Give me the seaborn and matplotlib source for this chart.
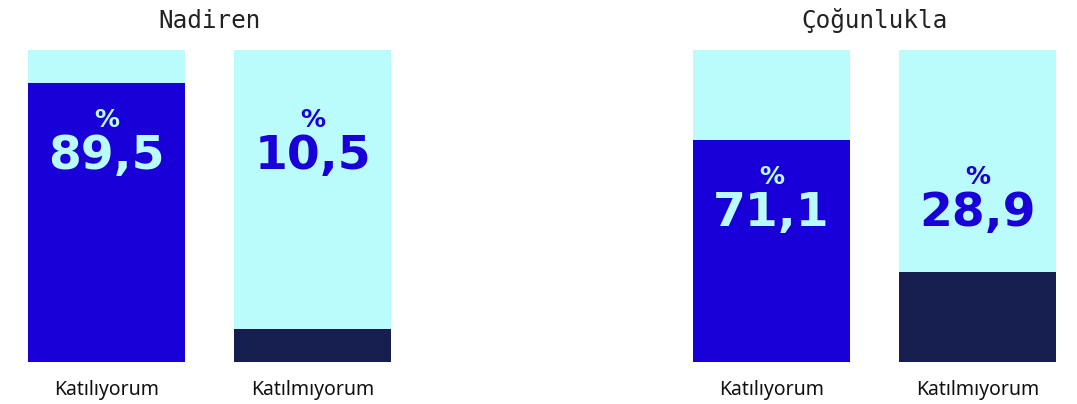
import matplotlib
matplotlib.use("Agg")
import matplotlib.pyplot as plt
import seaborn as sns

# data
groups = ["Nadiren", "Çoğunlukla"]
categories = ["Katılıyorum", "Katılmıyorum"]
nadiren_vals = [89.5, 10.5]
cogunlukla_vals = [71.1, 28.9]

BLUE = "#1a00d8"
CYAN = "#bafcfc"
NAVY = "#161d4f"

sns.set_style("white")
plt.rcParams["font.family"] = ["Noto Sans", "DejaVu Sans"]

fig = plt.figure(figsize=(10.77, 4.04), dpi=100)
ax_left = fig.add_axes([28 / 1077, 42 / 404, 363 / 1077, 312 / 404])
ax_right = fig.add_axes([693 / 1077, 42 / 404, 363 / 1077, 312 / 404])

bar_w = 157 / 206

for ax, title, vals in [(ax_left, groups[0], nadiren_vals), (ax_right, groups[1], cogunlukla_vals)]:
    # full-height background bars
    sns.barplot(x=categories, y=[100, 100], color=CYAN, width=bar_w, ax=ax,
                saturation=1, linewidth=0)
    # filled share
    sns.barplot(x=categories, y=vals, hue=categories, palette=[BLUE, NAVY],
                width=bar_w, ax=ax, legend=False, saturation=1, linewidth=0)
    ax.set_xlim(-0.5 * bar_w, 1 + 0.5 * bar_w)
    ax.set_ylim(0, 100)
    ax.set_yticks([])
    ax.set_ylabel("")
    for s in ax.spines.values():
        s.set_visible(False)
    ax.tick_params(axis="x", length=0, pad=13, labelsize=14)
    for lbl in ax.get_xticklabels():
        lbl.set_color("#111111")
    ax.set_title(title, fontsize=17.5, family="DejaVu Sans Mono", color="#222222", pad=16)

    # labels sit a fixed distance under the top of the largest fill
    top = max(vals)
    for i, v in enumerate(vals):
        txt_color = CYAN if v >= top - 23.5 else BLUE
        ax.text(i, top - 11.8, "%", ha="center", va="center", fontsize=18,
                fontweight="bold", color=txt_color, family="DejaVu Sans")
        ax.text(i, top - 23.5, f"{v:.1f}".replace(".", ","), ha="center", va="center",
                fontsize=34, fontweight="bold", color=txt_color, family="DejaVu Sans")

fig.savefig("out.png", dpi=100)
